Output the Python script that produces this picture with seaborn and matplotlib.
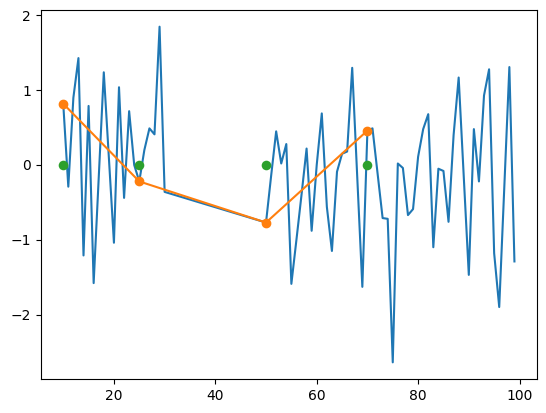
import numpy as np
import pandas as pd
import matplotlib
matplotlib.use("Agg")
import matplotlib.pyplot as plt
import seaborn as sns

# serie principal (azul): x 10..30 y luego 50..99
x_serie = list(range(10, 31)) + list(range(50, 100))
y_serie = [0.82, -0.29, 0.90, 1.43, -1.21, 0.79, -1.58, -0.17, 1.24, 0.10,
           -1.04, 1.04, -0.44, 0.72, 0.00, -0.22, 0.20, 0.49, 0.41, 1.85,
           -0.36,
           -0.77, -0.15, 0.45, 0.02, 0.28, -1.59, -1.00, -0.40, 0.22, -0.88,
           0.00, 0.69, -0.56, -1.15, -0.09, 0.15, 0.18, 1.30, -0.17, -1.63,
           0.46, 0.49, -0.11, -0.71, -0.72, -2.64, 0.02, -0.04, -0.67, -0.59,
           0.11, 0.48, 0.68, -1.10, -0.05, -0.08, -0.76, 0.40, 1.17, -0.15,
           -1.47, 0.48, -0.22, 0.93, 1.28, -1.18, -1.90, -0.30, 1.31, -1.29]

# puntos seleccionados (naranja) y marcas en cero (verde)
x_sel = [10, 25, 50, 70]
y_sel = [0.82, -0.22, -0.77, 0.46]
y_cero = [0, 0, 0, 0]

df = pd.DataFrame({"x": x_serie, "y": y_serie})
df_sel = pd.DataFrame({"x": x_sel, "y": y_sel, "cero": y_cero})

fig, ax = plt.subplots(figsize=(5.46, 4.13), dpi=100)
plt.subplots_adjust(left=0.0745, right=0.9835, top=0.976, bottom=0.082)

sns.lineplot(data=df, x="x", y="y", ax=ax, color="C0", linewidth=1.5)
sns.scatterplot(data=df_sel, x="x", y="cero", ax=ax, color="C2", s=48, linewidth=0, zorder=3)
sns.lineplot(data=df_sel, x="x", y="y", ax=ax, color="C1", linewidth=1.5,
             marker="o", markersize=6, markeredgecolor="C1", markeredgewidth=1, zorder=4)

ax.set_xlabel("")
ax.set_ylabel("")
ax.set_xticks([20, 40, 60, 80, 100])
ax.set_yticks([-2, -1, 0, 1, 2])

plt.savefig("out.png", dpi=100)
